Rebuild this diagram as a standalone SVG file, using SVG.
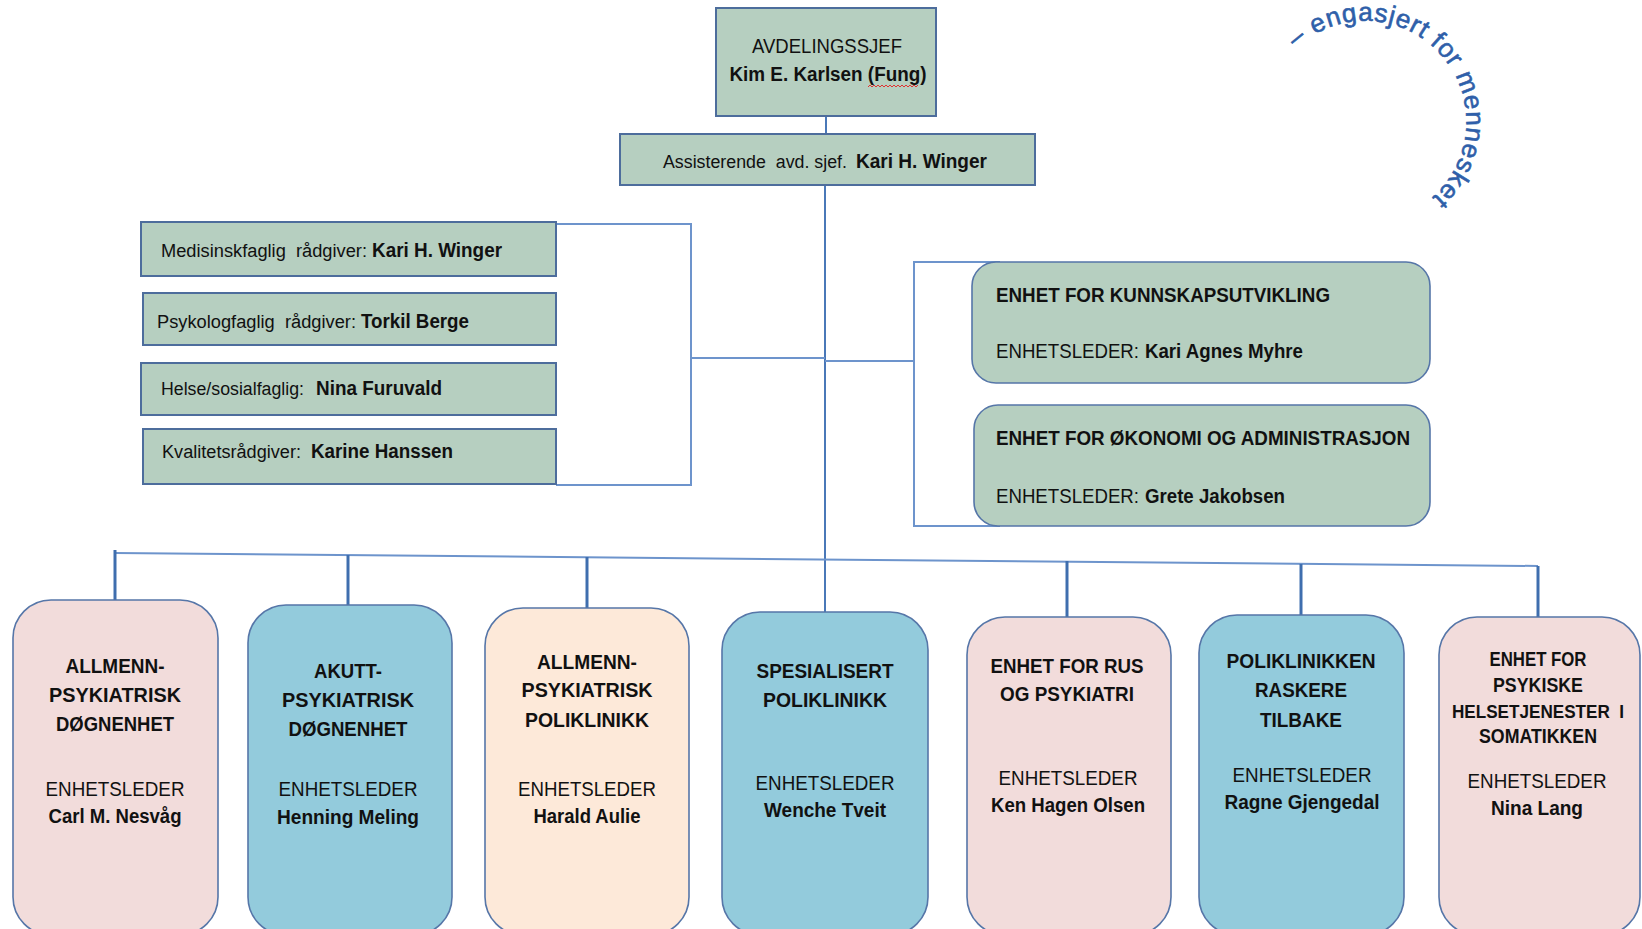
<svg xmlns="http://www.w3.org/2000/svg" width="1642" height="929" viewBox="0 0 1642 929">
<style>
.sq{fill:#b6cfc0;stroke:#4d6d9c;stroke-width:2}
.rd{stroke:#5676a8;stroke-width:1.6}
.pink{fill:#f2dcdb}.blue{fill:#93cbdc}.peach{fill:#fde9d9}.green{fill:#b6cfc0}
text{font-family:"Liberation Sans",Arial,sans-serif;font-size:20px;fill:#111;white-space:pre}
.b{font-weight:bold}
.c{text-anchor:middle}
.s{font-size:18px}
.ln{fill:none;stroke:#4a78b8;stroke-width:2}
.lt{fill:none;stroke:#6d94cc;stroke-width:2}
.dr{fill:none;stroke:#3f6eae;stroke-width:3}
</style>
<g id="connectors">
<path class="ln" d="M826,116V134"/>
<path class="ln" d="M825,185V612"/>
<path class="lt" d="M556,224H691V485H556"/>
<path class="lt" d="M691,358H825"/>
<path class="lt" d="M1000,262H914V526H1000"/>
<path class="lt" d="M825,361H914"/>
<path class="lt" d="M115,553L1538,566"/>
<path class="dr" d="M115,550V600"/>
<path class="dr" d="M348,555V605"/>
<path class="dr" d="M587,557V608"/>
<path class="dr" d="M1067,561V617"/>
<path class="dr" d="M1301,564V615"/>
<path class="dr" d="M1538,566V617"/>
</g>
<g id="slogan">
<defs><path id="arc" d="M1296.1,48.2A101,101 0 1 1 1420,206.7"/></defs>
<text style="font-size:26px;fill:#2f5fa9;stroke:#2f5fa9;stroke-width:0.6;letter-spacing:0.8px"><textPath href="#arc">– engasjert for mennesket</textPath></text>
</g>
<g id="avdelingssjef">
<rect class="sq" x="716" y="8" width="220" height="108"/>
<text class="c" x="827" y="53" textLength="150" lengthAdjust="spacingAndGlyphs">AVDELINGSSJEF</text>
<text class="c b" x="828" y="81" textLength="197" lengthAdjust="spacingAndGlyphs">Kim E. Karlsen (Fung)</text>
<path d="M868,87l2,-2l2,2l2,-2l2,2l2,-2l2,2l2,-2l2,2l2,-2l2,2l2,-2l2,2l2,-2l2,2l2,-2l2,2l2,-2l2,2l2,-2l2,2l2,-2l2,2l2,-2l2,2l2,-2" fill="none" stroke="#e03030" stroke-width="1"/>
</g>
<g id="assisterende">
<rect class="sq" x="620" y="134" width="415" height="51"/>
<text class="s" x="663" y="168" textLength="184" lengthAdjust="spacingAndGlyphs">Assisterende  avd. sjef.</text>
<text class="b" x="856" y="168" textLength="131" lengthAdjust="spacingAndGlyphs">Kari H. Winger</text>
</g>
<g id="medisinskfaglig">
<rect class="sq" x="141" y="222" width="415" height="54"/>
<text class="s" x="161" y="257" textLength="206" lengthAdjust="spacingAndGlyphs">Medisinskfaglig  rådgiver:</text>
<text class="b" x="372" y="257" textLength="130" lengthAdjust="spacingAndGlyphs">Kari H. Winger</text>
</g>
<g id="psykologfaglig">
<rect class="sq" x="143" y="293" width="413" height="52"/>
<text class="s" x="157" y="328" textLength="199" lengthAdjust="spacingAndGlyphs">Psykologfaglig  rådgiver:</text>
<text class="b" x="361" y="328" textLength="108" lengthAdjust="spacingAndGlyphs">Torkil Berge</text>
</g>
<g id="helsesosialfaglig">
<rect class="sq" x="141" y="363" width="415" height="52"/>
<text class="s" x="161" y="395" textLength="143" lengthAdjust="spacingAndGlyphs">Helse/sosialfaglig:</text>
<text class="b" x="316" y="395" textLength="126" lengthAdjust="spacingAndGlyphs">Nina Furuvald</text>
</g>
<g id="kvalitet">
<rect class="sq" x="143" y="429" width="413" height="55"/>
<text class="s" x="162" y="458" textLength="139" lengthAdjust="spacingAndGlyphs">Kvalitetsrådgiver:</text>
<text class="b" x="311" y="458" textLength="142" lengthAdjust="spacingAndGlyphs">Karine Hanssen</text>
</g>
<g id="kunnskapsutvikling">
<rect class="rd green" x="972" y="262" width="458" height="121" rx="24"/>
<text class="b" x="996" y="302" textLength="334" lengthAdjust="spacingAndGlyphs">ENHET FOR KUNNSKAPSUTVIKLING</text>
<text x="996" y="358" textLength="143" lengthAdjust="spacingAndGlyphs">ENHETSLEDER:</text>
<text class="b" x="1145" y="358" textLength="158" lengthAdjust="spacingAndGlyphs">Kari Agnes Myhre</text>
</g>
<g id="okonomi">
<rect class="rd green" x="974" y="405" width="456" height="121" rx="24"/>
<text class="b" x="996" y="445" textLength="414" lengthAdjust="spacingAndGlyphs">ENHET FOR ØKONOMI OG ADMINISTRASJON</text>
<text x="996" y="503" textLength="143" lengthAdjust="spacingAndGlyphs">ENHETSLEDER:</text>
<text class="b" x="1145" y="503" textLength="140" lengthAdjust="spacingAndGlyphs">Grete Jakobsen</text>
</g>
<g id="unit1">
<rect class="rd pink" x="13" y="600" width="205" height="335" rx="38"/>
<text class="c b" x="115" y="673" textLength="99" lengthAdjust="spacingAndGlyphs">ALLMENN-</text>
<text class="c b" x="115" y="702" textLength="132" lengthAdjust="spacingAndGlyphs">PSYKIATRISK</text>
<text class="c b" x="115" y="731" textLength="118" lengthAdjust="spacingAndGlyphs">DØGNENHET</text>
<text class="c" x="115" y="796" textLength="139" lengthAdjust="spacingAndGlyphs">ENHETSLEDER</text>
<text class="c b" x="115" y="823" textLength="133" lengthAdjust="spacingAndGlyphs">Carl M. Nesvåg</text>
</g>
<g id="unit2">
<rect class="rd blue" x="248" y="605" width="204" height="330" rx="38"/>
<text class="c b" x="348" y="678" textLength="68" lengthAdjust="spacingAndGlyphs">AKUTT-</text>
<text class="c b" x="348" y="707" textLength="132" lengthAdjust="spacingAndGlyphs">PSYKIATRISK</text>
<text class="c b" x="348" y="736" textLength="119" lengthAdjust="spacingAndGlyphs">DØGNENHET</text>
<text class="c" x="348" y="796" textLength="139" lengthAdjust="spacingAndGlyphs">ENHETSLEDER</text>
<text class="c b" x="348" y="824" textLength="142" lengthAdjust="spacingAndGlyphs">Henning Meling</text>
</g>
<g id="unit3">
<rect class="rd peach" x="485" y="608" width="204" height="327" rx="38"/>
<text class="c b" x="587" y="669" textLength="100" lengthAdjust="spacingAndGlyphs">ALLMENN-</text>
<text class="c b" x="587" y="697" textLength="131" lengthAdjust="spacingAndGlyphs">PSYKIATRISK</text>
<text class="c b" x="587" y="727" textLength="124" lengthAdjust="spacingAndGlyphs">POLIKLINIKK</text>
<text class="c" x="587" y="796" textLength="138" lengthAdjust="spacingAndGlyphs">ENHETSLEDER</text>
<text class="c b" x="587" y="823" textLength="107" lengthAdjust="spacingAndGlyphs">Harald Aulie</text>
</g>
<g id="unit4">
<rect class="rd blue" x="722" y="612" width="206" height="323" rx="38"/>
<text class="c b" x="825" y="678" textLength="137" lengthAdjust="spacingAndGlyphs">SPESIALISERT</text>
<text class="c b" x="825" y="707" textLength="124" lengthAdjust="spacingAndGlyphs">POLIKLINIKK</text>
<text class="c" x="825" y="790" textLength="139" lengthAdjust="spacingAndGlyphs">ENHETSLEDER</text>
<text class="c b" x="825" y="817" textLength="122" lengthAdjust="spacingAndGlyphs">Wenche Tveit</text>
</g>
<g id="unit5">
<rect class="rd pink" x="967" y="617" width="204" height="318" rx="38"/>
<text class="c b" x="1067" y="673" textLength="153" lengthAdjust="spacingAndGlyphs">ENHET FOR RUS</text>
<text class="c b" x="1067" y="701" textLength="134" lengthAdjust="spacingAndGlyphs">OG PSYKIATRI</text>
<text class="c" x="1068" y="785" textLength="139" lengthAdjust="spacingAndGlyphs">ENHETSLEDER</text>
<text class="c b" x="1068" y="812" textLength="154" lengthAdjust="spacingAndGlyphs">Ken Hagen Olsen</text>
</g>
<g id="unit6">
<rect class="rd blue" x="1199" y="615" width="205" height="320" rx="38"/>
<text class="c b" x="1301" y="668" textLength="149" lengthAdjust="spacingAndGlyphs">POLIKLINIKKEN</text>
<text class="c b" x="1301" y="697" textLength="92" lengthAdjust="spacingAndGlyphs">RASKERE</text>
<text class="c b" x="1301" y="727" textLength="82" lengthAdjust="spacingAndGlyphs">TILBAKE</text>
<text class="c" x="1302" y="782" textLength="139" lengthAdjust="spacingAndGlyphs">ENHETSLEDER</text>
<text class="c b" x="1302" y="809" textLength="155" lengthAdjust="spacingAndGlyphs">Ragne Gjengedal</text>
</g>
<g id="unit7">
<rect class="rd pink" x="1439" y="617" width="201" height="318" rx="38"/>
<text class="c b" x="1538" y="666" textLength="97" lengthAdjust="spacingAndGlyphs">ENHET FOR</text>
<text class="c b" x="1538" y="692" textLength="90" lengthAdjust="spacingAndGlyphs">PSYKISKE</text>
<text class="c b" x="1538" y="718" textLength="172" lengthAdjust="spacingAndGlyphs" style="font-size:18px">HELSETJENESTER  I</text>
<text class="c b" x="1538" y="743" textLength="118" lengthAdjust="spacingAndGlyphs">SOMATIKKEN</text>
<text class="c" x="1537" y="788" textLength="139" lengthAdjust="spacingAndGlyphs">ENHETSLEDER</text>
<text class="c b" x="1537" y="815" textLength="92" lengthAdjust="spacingAndGlyphs">Nina Lang</text>
</g>
</svg>
